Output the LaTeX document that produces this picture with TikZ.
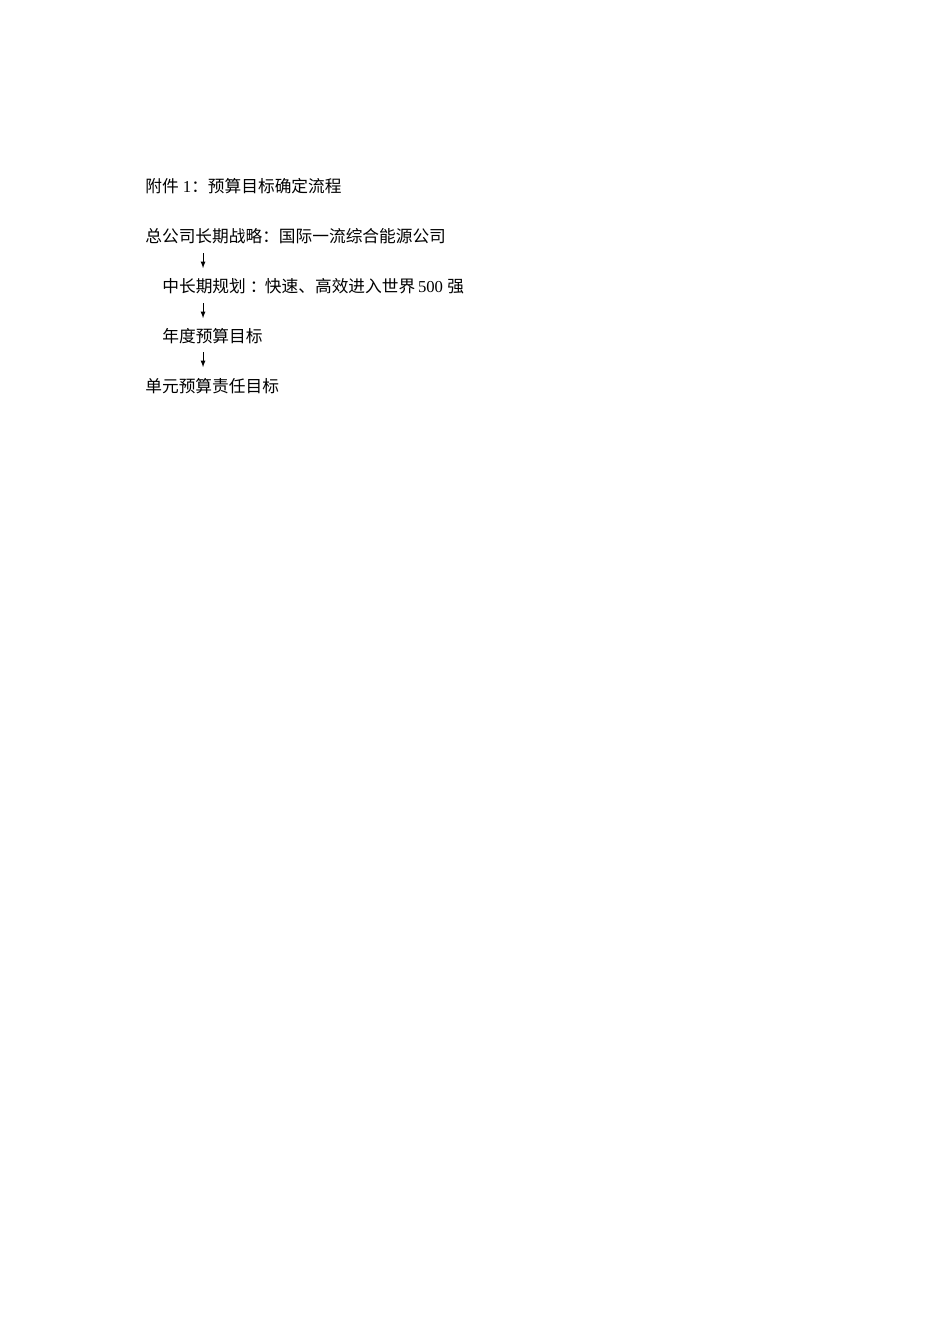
\documentclass[tikz,border=0pt]{standalone}
\usepackage{fontspec}
\setmainfont{Liberation Serif}
\newfontfamily\cjk{Noto Sans CJK SC}
\usetikzlibrary{arrows}
\newcommand{\zh}[1]{{\cjk #1}}
\tikzset{
	txt/.style={anchor=west,inner sep=0pt,font=\fontsize{10.5pt}{12pt}\selectfont},
	flow/.style={-latex,thin}
}
\begin{document}
\begin{tikzpicture}
		\useasboundingbox (0,0) rectangle (21,-29.7);
		% title
		\node[txt] (title) at (3.205,-4.111) {\zh{附件} 1\zh{：预算目标确定流程}};
		% levels
		\node[txt] (strategy) at (3.205,-5.217) {\zh{总公司长期战略：国际一流综合能源公司}};
		\node[txt] (plan) at (3.581,-6.322) {\zh{中长期规划\hspace{2.5pt}：\hspace{-1pt}快速、高效进入世界}\,500 \zh{强}};
		\node[txt] (annual) at (3.581,-7.427) {\zh{年度预算目标}};
		\node[txt] (unit) at (3.205,-8.532) {\zh{单元预算责任目标}};
		% arrows
		\foreach \i/\a/\b in {1/-5.593/-5.924,2/-6.698/-7.029,3/-7.781/-8.112}{
			\coordinate (s\i) at (4.487,\a);
			\coordinate (e\i) at (4.487,\b);
			\draw[flow] (s\i) -- (e\i);
		}
	\end{tikzpicture}
\end{document}
